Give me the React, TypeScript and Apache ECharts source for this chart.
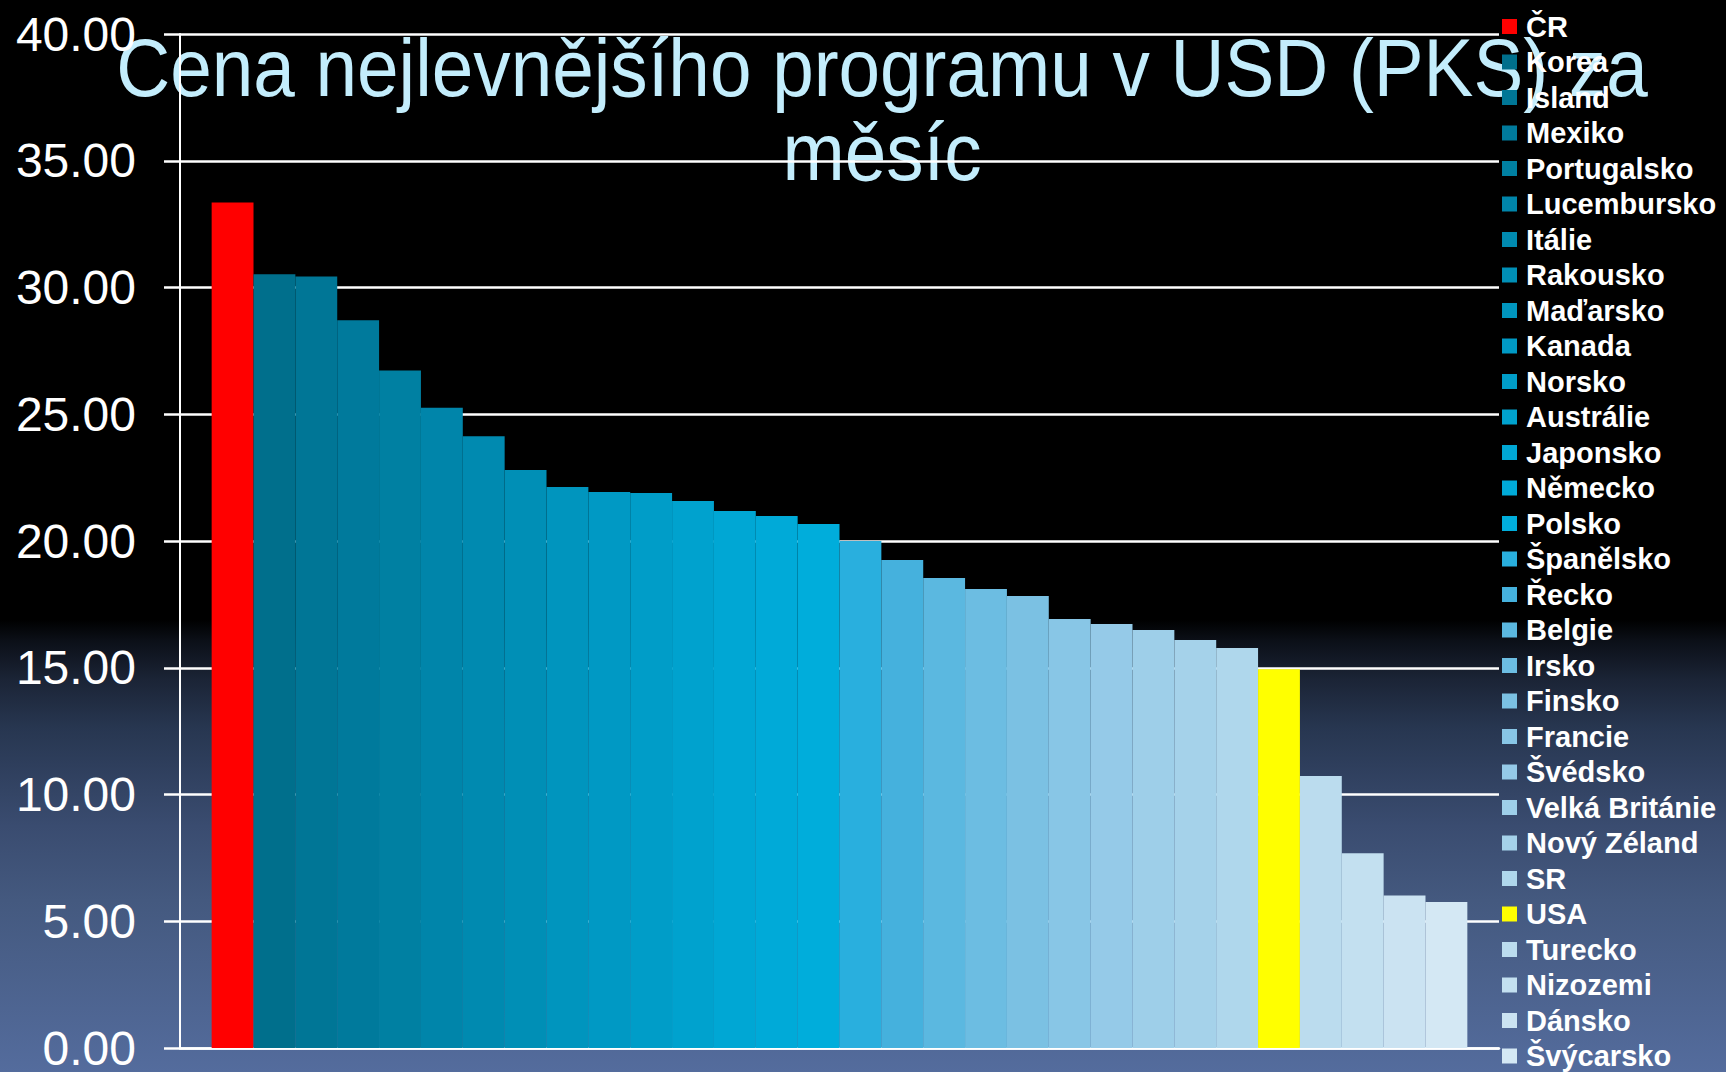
import React, { useEffect, useRef } from "react";
import * as echarts from "echarts";

const countries = [
  "ČR", "Korea", "Island", "Mexiko", "Portugalsko", "Lucembursko", "Itálie", "Rakousko",
  "Maďarsko", "Kanada", "Norsko", "Austrálie", "Japonsko", "Německo", "Polsko", "Španělsko",
  "Řecko", "Belgie", "Irsko", "Finsko", "Francie", "Švédsko", "Velká Británie", "Nový Zéland",
  "SR", "USA", "Turecko", "Nizozemi", "Dánsko", "Švýcarsko",
];

const values = [
  33.35, 30.52, 30.43, 28.71, 26.73, 25.26, 24.13, 22.8,
  22.13, 21.93, 21.89, 21.58, 21.18, 20.99, 20.67, 20.0,
  19.25, 18.54, 18.11, 17.83, 16.92, 16.73, 16.49, 16.09,
  15.78, 14.94, 10.73, 7.68, 6.02, 5.76,
];

const barColors = [
  "#FF0000", "#006F8C", "#007696", "#007A9C", "#0080A2", "#0085AA", "#008AB0", "#008FB6",
  "#0095BE", "#0099C4", "#009DC8", "#00A2CE", "#00A7D4", "#00AAD8", "#00ADDB", "#29AFDE",
  "#45B1DD", "#5BB8E0", "#6CBDE2", "#7BC1E3", "#88C6E6", "#95CAE8", "#9ECFE9", "#A5D2EA",
  "#AFD7EC", "#FFFF00", "#BBDCEE", "#C3E0F0", "#CBE3F2", "#D4E8F4",
];

const titleLines = ["Cena nejlevnějšího programu v USD (PKS) za", "měsíc"];

const FONT = '"Liberation Sans", Arial, Helvetica, sans-serif';

export default function App() {
  const ref = useRef<HTMLDivElement>(null);

  useEffect(() => {
    if (!ref.current) return;
    const chart = echarts.init(ref.current, null, { renderer: "svg" });

    const series = countries.map((name, i) => ({
      name,
      type: "bar",
      data: [values[i]],
      barGap: "0%",
      barCategoryGap: "4.8%",
      itemStyle: { color: barColors[i] },
      z: 2,
    }));

    chart.setOption({
      animation: false,
      backgroundColor: "transparent",
      graphic: [
        {
          type: "text",
          x: 882,
          y: 68,
          scaleX: 0.922,
          z: -5,
          silent: true,
          style: {
            text: titleLines[0],
            fill: "#C3EDFC",
            fontSize: 81,
            fontFamily: FONT,
            align: "center",
            verticalAlign: "middle",
          },
        },
        {
          type: "text",
          x: 882,
          y: 152,
          scaleX: 0.922,
          z: -5,
          silent: true,
          style: {
            text: titleLines[1],
            fill: "#C3EDFC",
            fontSize: 81,
            fontFamily: FONT,
            align: "center",
            verticalAlign: "middle",
          },
        },
      ],
      grid: { left: 180, top: 34, width: 1319, height: 1014, containLabel: false },
      legend: {
        orient: "vertical",
        left: 1502,
        top: 12,
        padding: 0,
        itemGap: 6.5,
        itemWidth: 15,
        itemHeight: 15,
        icon: "rect",
        selectedMode: false,
        data: countries,
        textStyle: {
          color: "#FFFFFF",
          fontSize: 29,
          fontWeight: "bold",
          fontFamily: FONT,
          lineHeight: 29,
          padding: [0, 0, 0, 4],
        },
      },
      xAxis: {
        type: "category",
        data: [""],
        axisLine: { show: true, lineStyle: { color: "#FFFFFF", width: 2.5 } },
        axisTick: { show: false },
        axisLabel: { show: false },
        splitLine: { show: false },
      },
      yAxis: {
        type: "value",
        min: 0,
        max: 40,
        interval: 5,
        axisLine: { show: true, lineStyle: { color: "#FFFFFF", width: 2 } },
        axisTick: { show: true, length: 16, lineStyle: { color: "#FFFFFF", width: 2.5 } },
        axisLabel: {
          color: "#FFFFFF",
          fontSize: 48,
          lineHeight: 40,
          fontFamily: FONT,
          margin: 44,
          formatter: (v: number) => v.toFixed(2),
        },
        splitLine: { show: true, lineStyle: { color: "#FFFFFF", width: 2.5 } },
      },
      series,
    });

    return () => chart.dispose();
  }, []);

  return (
    <div
      ref={ref}
      style={{
        position: "fixed",
        left: 0,
        top: 0,
        width: 1726,
        height: 1072,
        background:
          "linear-gradient(to bottom, #000000 0%, #000000 57.8%, #0B0F17 59.7%, #1B2436 63.4%, #273650 67.8%, #3A4C70 77.1%, #44597F 84%, #546C9D 100%)",
      }}
    />
  );
}
